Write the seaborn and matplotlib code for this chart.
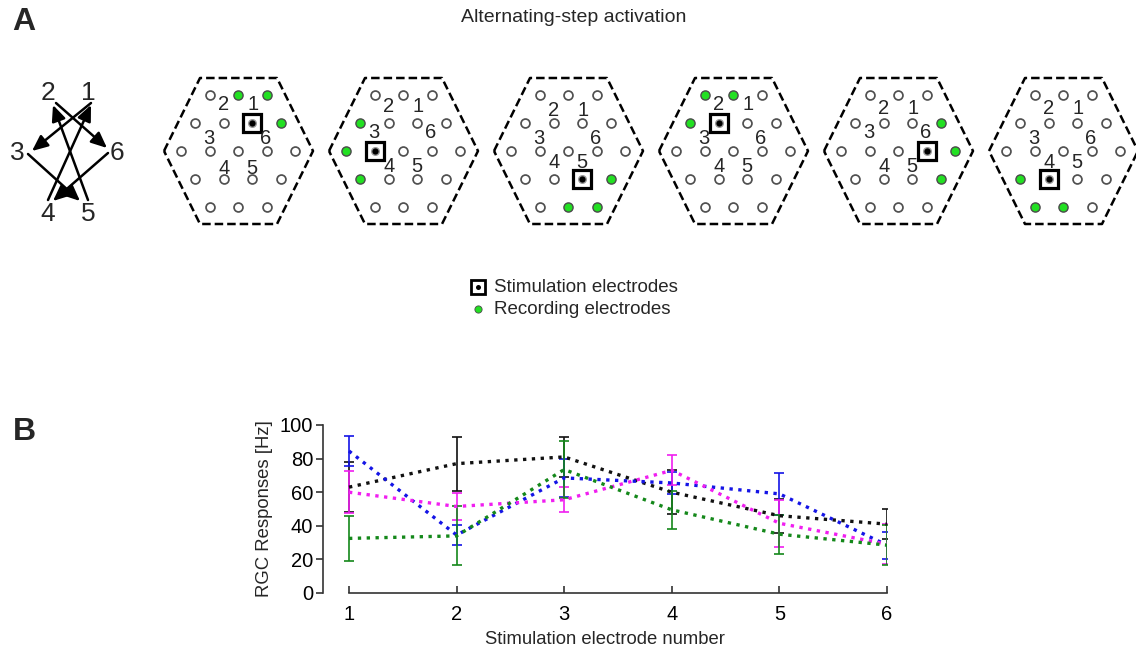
import numpy as np
import pandas as pd
import matplotlib
matplotlib.use("Agg")
import matplotlib.pyplot as plt
from matplotlib.patches import FancyArrowPatch
import seaborn as sns

# ---------------- data ----------------
electrode_numbers = [1, 2, 3, 4, 5, 6]
black_mean = [63, 77, 81, 60, 46, 41]
black_err = [15, 16, 12, 13, 10, 9]
blue_mean = [84.5, 34.5, 68.5, 65.5, 59, 28.5]
blue_err = [9, 6, 11.5, 6.5, 12.5, 8]
magenta_mean = [60, 51.5, 55.5, 73, 41.5, 29]
magenta_err = [12.5, 8, 7.5, 9, 14, 12]
green_mean = [32.5, 34, 73.5, 49.5, 35, 28.5]
green_err = [13.5, 17.5, 17, 11.5, 11.5, 12]
series_names = ["black", "blue", "magenta", "green"]
series_colors = ["#111111", "#1414e6", "#f01ef0", "#14881a"]
y_ticks = [0, 20, 40, 60, 80, 100]

# activation sequence (stimulation electrode per panel)
stim_sequence = [1, 3, 5, 2, 6, 4]
# recording electrodes for each panel, as (row, col) grid positions
recording_sets = [
    [(-2, 0), (-2, 1), (-1, 1.5)],
    [(-1, -1.5), (0, -2), (1, -1.5)],
    [(1, 1.5), (2, 0), (2, 1)],
    [(-2, -1), (-2, 0), (-1, -1.5)],
    [(-1, 1.5), (0, 2), (1, 1.5)],
    [(1, -1.5), (2, -1), (2, 0)],
]
# inner ring electrodes: number -> (row, col)
inner_ring = {1: (-1, 0.5), 2: (-1, -0.5), 3: (0, -1), 4: (1, -0.5), 5: (1, 0.5), 6: (0, 1)}
label_dx = {1: 15, 2: -14, 3: -29, 6: 28, 4: -14, 5: 14}
# per-panel vertical label offsets (pairs 1/2, 3/6, 4/5)
label_dy_12 = [-47, -44, -41, -47, -43, -42]
label_dy_36 = [-12, -19, -13, -13, -19, -13]
label_dy_45 = [17, 16, 12, 16, 16, 12]

sns.set_style("ticks")
plt.rcParams["font.family"] = ["Liberation Sans", "DejaVu Sans"]

W, H = 1136, 651
fig = plt.figure(figsize=(W / 100, H / 100), dpi=100)

# ---------------- panel A (pixel coordinate overlay) ----------------
axA = fig.add_axes([0, 0, 1, 1])
axA.set_xlim(0, W)
axA.set_ylim(H, 0)
axA.axis("off")

axA.text(24, 22, "A", fontsize=23, fontweight="bold", ha="center", va="center")
axA.text(24, 432, "B", fontsize=23, fontweight="bold", ha="center", va="center")
axA.text(574, 18, "Alternating-step activation", fontsize=14, ha="center", va="center")

# arrow diagram
num_pos = {2: (48, 93), 1: (88, 93), 3: (17, 153), 6: (117, 153), 4: (48, 214), 5: (88, 214)}
for k, (x, y) in num_pos.items():
    axA.text(x, y, str(k), fontsize=19, ha="center", va="center")
arrows = [((91, 103), (32, 151)), ((28, 154), (80, 201)), ((88, 200), (53, 105)),
          ((56, 103), (107, 148)), ((108, 153), (53, 201)), ((48, 200), (91, 105))]
for (t, h) in arrows:
    axA.add_patch(FancyArrowPatch(t, h, arrowstyle="-|>,head_length=9.5,head_width=4.2",
                                  lw=1.8, color="black", shrinkA=0, shrinkB=0,
                                  mutation_scale=1))

# hexagons
sx, sy = 28.5, 28.0
hex_cy = 151
hex_cx = [238 + 165 * i for i in range(6)]
rows = {-2: [-1, 0, 1], -1: [-1.5, -0.5, 0.5, 1.5], 0: [-2, -1, 0, 1, 2],
        1: [-1.5, -0.5, 0.5, 1.5], 2: [-1, 0, 1]}
hex_outline = np.array([(-74, 0), (-38, -73), (39, -73), (75, 0), (39, 73), (-38, 73), (-74, 0)])

for i, cx in enumerate(hex_cx):
    axA.plot(cx + hex_outline[:, 0], hex_cy + hex_outline[:, 1], color="black",
             lw=1.8, ls=(0, (3.4, 1.6)), solid_capstyle="butt")
    stim = inner_ring[stim_sequence[i]]
    rec = recording_sets[i]
    for r, cols in rows.items():
        for c in cols:
            x, y = cx + c * sx, hex_cy + r * sy
            if (r, c) == stim:
                axA.plot(x, y, marker="s", ms=13.5, mfc="white", mec="black", mew=2.3)
                axA.plot(x, y, marker="o", ms=6.5, mfc="#9a9a9a", mec="none")
                axA.plot(x, y, marker="o", ms=4.5, mfc="black", mec="none")
            elif (r, c) in rec:
                axA.plot(x, y, marker="o", ms=6.6, mfc="#22e022", mec="#4a4a4a", mew=1.0)
            else:
                axA.plot(x, y, marker="o", ms=6.4, mfc="white", mec="#505050", mew=1.25)
    dys = {1: label_dy_12[i], 2: label_dy_12[i], 3: label_dy_36[i], 6: label_dy_36[i],
           4: label_dy_45[i], 5: label_dy_45[i]}
    for k in electrode_numbers:
        axA.text(cx + label_dx[k], hex_cy + dys[k], str(k), fontsize=14.5, ha="center", va="center")

# legend
axA.plot(478, 287, marker="s", ms=9.5, mfc="white", mec="black", mew=2.0)
axA.plot(478, 287, marker="o", ms=3.6, mfc="black", mec="none")
axA.plot(478, 309, marker="o", ms=5.2, mfc="#22e022", mec="#4a4a4a", mew=0.6)
axA.text(494, 287, "Stimulation electrodes", fontsize=13.5, ha="left", va="center")
axA.text(494, 309, "Recording electrodes", fontsize=13.5, ha="left", va="center")

# ---------------- panel B ----------------
axB = fig.add_axes([323 / W, 1 - 593 / H, (887 - 323) / W, (593 - 425) / H])
axB.patch.set_alpha(0)

means = [black_mean, blue_mean, magenta_mean, green_mean]
errs = [black_err, blue_err, magenta_err, green_err]
df = pd.DataFrame({
    "electrode": np.tile(electrode_numbers, len(series_names)),
    "response": np.concatenate(means),
    "series": np.repeat(series_names, len(electrode_numbers)),
})

for m, e, col in zip(means, errs, series_colors):
    axB.errorbar(electrode_numbers, m, yerr=e, fmt="none", ecolor=col, elinewidth=1.2,
                 capsize=3.8, capthick=1.2, zorder=2)

sns.lineplot(data=df, x="electrode", y="response", hue="series",
             palette=dict(zip(series_names, series_colors)), linestyle=":",
             linewidth=2.4, legend=False, ax=axB, zorder=3)

axB.set_xlim(1 - (349 - 323) / 107.6, 6.0)
axB.set_ylim(0, 100)
axB.set_xticks(electrode_numbers)
axB.set_yticks(y_ticks)
axB.tick_params(axis="x", direction="in", length=5, width=1.2, labelsize=14.5, pad=9, colors="#333333", labelcolor="black")
axB.tick_params(axis="y", direction="out", length=5, width=1.2, labelsize=14.5, pad=2, colors="#333333", labelcolor="black")
for s in ["top", "right"]:
    axB.spines[s].set_visible(False)
for s in ["left", "bottom"]:
    axB.spines[s].set_linewidth(1.2)
    axB.spines[s].set_color("#333333")
axB.spines["bottom"].set_bounds(1, 6)
axB.spines["left"].set_bounds(0, 100)
axB.set_xlabel("Stimulation electrode number", fontsize=13.3, labelpad=5)
axB.set_ylabel("RGC Responses [Hz]", fontsize=13.3, labelpad=5)

fig.savefig("out.png", dpi=100)
